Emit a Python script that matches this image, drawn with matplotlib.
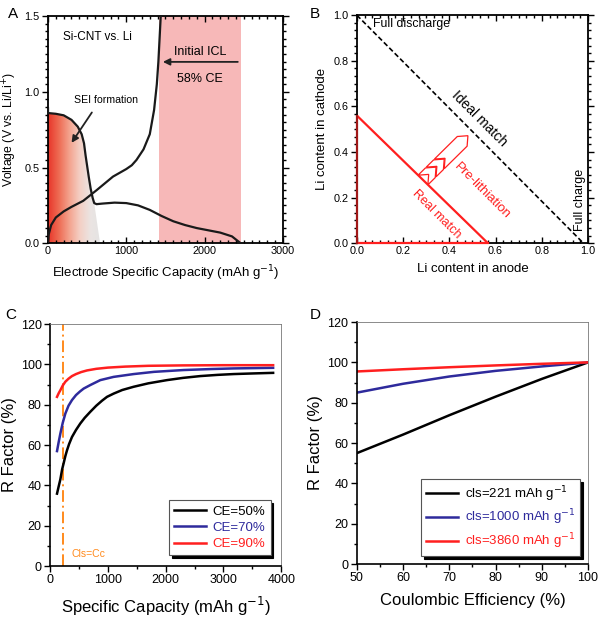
import numpy as np
import matplotlib
matplotlib.use('Agg')
import matplotlib.pyplot as plt
from matplotlib.patches import Polygon
from matplotlib.ticker import MultipleLocator, AutoMinorLocator, FormatStrFormatter
from matplotlib.colors import LinearSegmentedColormap

plt.rcParams['font.family'] = ['Liberation Sans', 'DejaVu Sans']

# ---- dane panel A (Si-CNT vs. Li) ----
discharge_cap = [0, 0, 100, 200, 300, 380, 430, 460, 480, 500, 520, 545, 570, 590, 620, 700,
                 850, 1000, 1150, 1300, 1450, 1600, 1750, 1900, 2050, 2200, 2350, 2460]
discharge_v = [0.89, 0.86, 0.855, 0.845, 0.815, 0.77, 0.72, 0.66, 0.58, 0.51, 0.44, 0.36, 0.30,
               0.265, 0.258, 0.262, 0.268, 0.265, 0.25, 0.22, 0.18, 0.145, 0.12, 0.10, 0.085,
               0.07, 0.045, 0.0]
charge_cap = [0, 10, 40, 100, 200, 300, 450, 620, 830, 1000, 1070, 1130, 1220, 1300, 1355, 1390,
              1410, 1425, 1440]
charge_v = [0.0, 0.06, 0.12, 0.17, 0.21, 0.24, 0.28, 0.35, 0.44, 0.49, 0.515, 0.55, 0.62, 0.72,
            0.88, 1.05, 1.2, 1.35, 1.5]
icl_span = [1415, 2460]
sei_edge = [600, 665]

# ---- dane panel B ----
ideal_anode = [0.0, 0.98]
ideal_cathode = [1.0, 0.0]
real_anode = [0.0, 0.567]
real_cathode = [0.56, 0.0]

# ---- dane panel C ----
c_black_x = [121, 150, 179, 210, 236, 265, 294, 330, 380, 450, 524, 600, 697, 800, 900, 986,
             1100, 1250, 1447, 1700, 2023, 2300, 2599, 2900, 3176, 3500, 3860]
c_black_y = [35.9, 39.5, 43.0, 48.0, 51.0, 54.5, 57.4, 60.5, 64.0, 67.5, 70.7, 73.5, 76.5, 79.5,
             82.0, 83.9, 85.5, 87.3, 88.9, 90.6, 92.2, 93.3, 94.2, 94.8, 95.2, 95.5, 95.8]
c_blue_x = [121, 150, 179, 220, 265, 320, 380, 450, 520, 582, 700, 870, 1100, 1447, 1800, 2311,
            2800, 3176, 3860]
c_blue_y = [57.0, 61.5, 65.7, 71.0, 75.6, 79.5, 82.3, 84.8, 86.6, 88.0, 89.8, 92.2, 93.8, 95.2,
            96.3, 97.2, 97.7, 98.0, 98.3]
c_red_x = [121, 150, 179, 220, 265, 320, 380, 450, 540, 640, 800, 1000, 1300, 1700, 2300, 3000,
           3860]
c_red_y = [83.9, 85.7, 87.2, 89.5, 91.4, 92.9, 94.2, 95.2, 96.2, 97.0, 97.8, 98.4, 98.9, 99.3,
           99.5, 99.6, 99.6]
c_labels = ['CE=50%', 'CE=70%', 'CE=90%']
cls_value = 221

# ---- dane panel D ----
ce = [50, 60, 70, 80, 90, 100]
d_black = [55.0, 64.2, 73.8, 83.0, 91.8, 100.0]
d_blue = [85.0, 89.4, 93.0, 95.8, 98.0, 100.0]
d_red = [95.5, 96.6, 97.6, 98.5, 99.3, 100.0]
d_labels = ['cls=221 mAh g$^{-1}$', 'cls=1000 mAh g$^{-1}$', 'cls=3860 mAh g$^{-1}$']

BLUE = '#2e2a9c'
RED = '#ff1f1f'
ORANGE = '#ff8a1c'

fig = plt.figure(figsize=(6.1, 6.22), dpi=100)
axA = fig.add_axes([0.0787, 0.609, 0.385, 0.365])
axB = fig.add_axes([0.585, 0.609, 0.379, 0.3666])
axC = fig.add_axes([0.082, 0.090, 0.379, 0.389])
axD = fig.add_axes([0.585, 0.0932, 0.379, 0.389])


def box_ticks(ax):
    ax.tick_params(which='both', top=True, right=True, direction='out', labelsize=7.8,
                   width=1.0, pad=2)
    ax.tick_params(which='major', length=4)
    ax.tick_params(which='minor', length=2.2)
    ax.tick_params(axis='x', which='both', bottom=True, direction='in')
    for s in ax.spines.values():
        s.set_linewidth(1.3)


# ---------------- A ----------------
ax = axA
ax.axvspan(icl_span[0], icl_span[1], color='#f7b8b8', lw=0, zorder=0)
sei_x = [c for c in discharge_cap if c <= sei_edge[0]]
sei_y = discharge_v[:len(sei_x)]
poly_pts = list(zip(sei_x, sei_y)) + [(sei_edge[1], 0), (0, 0)]
grad = np.linspace(0, 1, 256).reshape(1, -1)
cmap = LinearSegmentedColormap.from_list('sei', ['#e8362a', '#ee6a52', '#f3a28d',
                                                 '#f4cfc4', '#ebe4e2', '#e4e4e4'])
im = ax.imshow(grad, extent=[0, sei_edge[1], 0, 0.9], aspect='auto', cmap=cmap, zorder=1)
clip = Polygon(poly_pts, closed=True, transform=ax.transData, facecolor='none', edgecolor='none')
ax.add_patch(clip)
im.set_clip_path(clip)
ax.plot(discharge_cap, discharge_v, color='#1a1a1a', lw=1.6, zorder=3)
ax.plot(charge_cap, charge_v, color='#1a1a1a', lw=1.6, zorder=3)
ax.set_xlim(0, 3000)
ax.set_ylim(0, 1.5)
ax.xaxis.set_major_locator(MultipleLocator(1000))
ax.xaxis.set_minor_locator(AutoMinorLocator(10))
ax.yaxis.set_major_locator(MultipleLocator(0.5))
ax.yaxis.set_minor_locator(AutoMinorLocator(10))
ax.yaxis.set_major_formatter(FormatStrFormatter('%.1f'))
box_ticks(ax)
ax.set_xlabel('Electrode Specific Capacity (mAh g$^{-1}$)', fontsize=9.5, labelpad=5)
ax.set_ylabel('Voltage (V vs. Li/Li$^{+}$)', fontsize=8.8, labelpad=4)
ax.text(196, 1.363, 'Si-CNT vs. Li', fontsize=8.5, va='center', ha='left')
ax.text(1943, 1.264, 'Initial ICL', fontsize=9, ha='center', va='center')
ax.text(1943, 1.088, '58% CE', fontsize=9, ha='center', va='center')
ax.annotate('', xy=(1432, 1.198), xytext=(icl_span[1], 1.198),
            arrowprops=dict(arrowstyle='-|>', color='#222222', lw=1.3, mutation_scale=10))
ax.text(741, 0.949, 'SEI formation', fontsize=7.6, ha='center', va='center')
ax.annotate('', xy=(281, 0.648), xytext=(580, 0.879),
            arrowprops=dict(arrowstyle='-|>', color='#222222', lw=1.3, mutation_scale=10))
fig.text(0.013, 0.978, 'A', fontsize=11, va='center')

# ---------------- B ----------------
ax = axB
ax.plot(ideal_anode, ideal_cathode, color='black', ls=(0, (3, 1.6)), lw=1.2)
ax.plot(real_anode, real_cathode, color=RED, lw=1.6)
ax.plot([real_anode[0], real_anode[1]], [0, 0], color=RED, lw=1.6, clip_on=False, zorder=4)
ax.plot([0, 0], [0, real_cathode[0]], color='#a01818', lw=1.6, clip_on=False, zorder=4)
ax.set_xlim(0, 1)
ax.set_ylim(0, 1)
ax.xaxis.set_major_locator(MultipleLocator(0.2))
ax.xaxis.set_minor_locator(AutoMinorLocator(6))
ax.yaxis.set_major_locator(MultipleLocator(0.2))
ax.yaxis.set_minor_locator(AutoMinorLocator(6))
ax.xaxis.set_major_formatter(FormatStrFormatter('%.1f'))
ax.yaxis.set_major_formatter(FormatStrFormatter('%.1f'))
box_ticks(ax)
ax.set_xlabel('Li content in anode', fontsize=9.5, labelpad=5)
ax.set_ylabel('Li content in cathode', fontsize=9.5, labelpad=4)
ax.text(0.072, 0.963, 'Full discharge', fontsize=8.8, va='center', ha='left')
ax.text(0.53, 0.548, 'Ideal match', fontsize=10, rotation=-45, ha='center', va='center')
ax.text(0.965, 0.19, 'Full charge', fontsize=9, rotation=90, ha='center', va='center')
ax.text(0.54, 0.228, 'Pre-lithiation', fontsize=9.5, rotation=-45, ha='center', va='center',
        color=RED)
ax.text(0.343, 0.125, 'Real match', fontsize=9, rotation=-45, ha='center', va='center',
        color=RED)
# strzalka z szewronow (pre-lithiation)
start = np.array([0.286, 0.277])
d = np.array([1.0, 1.0]) / np.sqrt(2)
n = np.array([-1.0, 1.0]) / np.sqrt(2)
w, h = 0.03, 0.035
for u0, a in [(0.0, 0.045), (0.05, 0.045), (0.1, 0.14)]:
    loc = [(u0, -w), (u0 + a, -w), (u0 + a + h, 0), (u0 + a, w), (u0, w), (u0 + h, 0)]
    pts = [start + p[0] * d + p[1] * n for p in loc]
    ax.add_patch(Polygon(pts, closed=True, facecolor='none', edgecolor=RED, lw=0.9, zorder=3))
fig.text(0.508, 0.978, 'B', fontsize=11, va='center')


# ---------------- C ----------------
def bottom_ticks(ax):
    ax.tick_params(which='both', direction='out', labelsize=9, width=1.0, pad=2)
    ax.tick_params(which='major', length=4)
    ax.tick_params(which='minor', length=2.5)
    for s in ['left', 'bottom']:
        ax.spines[s].set_linewidth(1.2)
    for s in ['top', 'right']:
        ax.spines[s].set_linewidth(0.6)
        ax.spines[s].set_color('#777777')


ax = axC
ax.axvline(cls_value, color=ORANGE, ls=(0, (6, 2, 1, 2)), lw=1.4)
ax.plot(c_black_x, c_black_y, color='black', lw=1.8, label=c_labels[0])
ax.plot(c_blue_x, c_blue_y, color=BLUE, lw=1.8, label=c_labels[1])
ax.plot(c_red_x, c_red_y, color=RED, lw=1.8, label=c_labels[2])
ax.set_xlim(0, 4000)
ax.set_ylim(0, 120)
ax.xaxis.set_major_locator(MultipleLocator(1000))
ax.xaxis.set_minor_locator(AutoMinorLocator(2))
ax.yaxis.set_major_locator(MultipleLocator(20))
ax.yaxis.set_minor_locator(AutoMinorLocator(2))
bottom_ticks(ax)
ax.set_xlabel('Specific Capacity (mAh g$^{-1}$)', fontsize=12, labelpad=6)
ax.set_ylabel('R Factor (%)', fontsize=12, labelpad=3)
ax.text(369, 5.8, 'Cls=Cc', color=ORANGE, fontsize=7.5, va='center')
leg = ax.legend(loc='lower right', fontsize=9.5, frameon=True, fancybox=False,
                shadow={'color': 'black', 'alpha': 1}, handlelength=2.4,
                borderaxespad=0.8, labelspacing=0.3, handletextpad=0.5)
leg.get_frame().set_edgecolor('#555555')
leg.get_frame().set_linewidth(0.8)
for t, c in zip(leg.get_texts(), ['black', BLUE, RED]):
    t.set_color(c)
fig.text(0.008, 0.493, 'C', fontsize=11, va='center')

# ---------------- D ----------------
ax = axD
ax.plot(ce, d_black, color='black', lw=1.8, label=d_labels[0])
ax.plot(ce, d_blue, color=BLUE, lw=1.8, label=d_labels[1])
ax.plot(ce, d_red, color=RED, lw=1.8, label=d_labels[2])
ax.set_xlim(50, 100)
ax.set_ylim(0, 120)
ax.xaxis.set_major_locator(MultipleLocator(10))
ax.xaxis.set_minor_locator(AutoMinorLocator(2))
ax.yaxis.set_major_locator(MultipleLocator(20))
ax.yaxis.set_minor_locator(AutoMinorLocator(2))
bottom_ticks(ax)
ax.set_xlabel('Coulombic Efficiency (%)', fontsize=12, labelpad=6)
ax.set_ylabel('R Factor (%)', fontsize=12, labelpad=3)
leg = ax.legend(loc='lower right', fontsize=9.5, frameon=True, fancybox=False,
                shadow={'color': 'black', 'alpha': 1}, handlelength=2.4,
                borderaxespad=0.6, labelspacing=0.3, handletextpad=0.5)
leg.get_frame().set_edgecolor('#555555')
leg.get_frame().set_linewidth(0.8)
for t, c in zip(leg.get_texts(), ['black', BLUE, RED]):
    t.set_color(c)
fig.text(0.508, 0.493, 'D', fontsize=11, va='center')

fig.savefig('out.png', dpi=100)
